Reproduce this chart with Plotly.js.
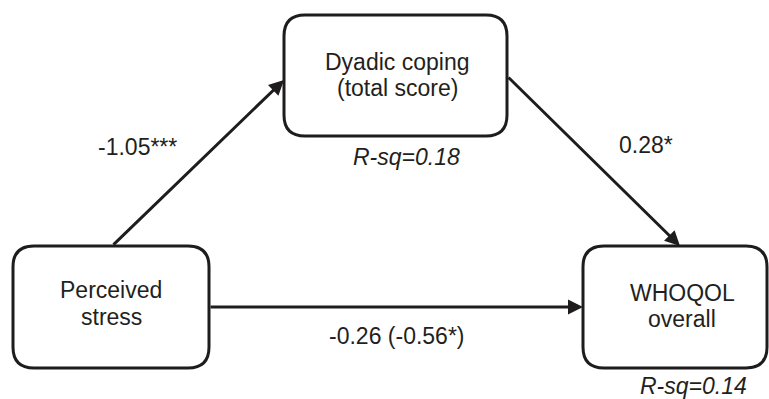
<!DOCTYPE html>
<html>
<head>
<meta charset="utf-8">
<script src="https://cdn.plot.ly/plotly-3.0.1.min.js"></script>
<style>html,body{margin:0;padding:0;background:#fff;}</style>
</head>
<body>
<div id="chart" style="width:769px;height:399px;"></div>
<script>
// ---- Data ----
const nodeNames = ['Perceived stress', 'Dyadic coping (total score)', 'WHOQOL overall'];
const nodeLines = [['Perceived', 'stress'], ['Dyadic coping', '(total score)'], ['WHOQOL', 'overall']];
const pathCoefs = ['-1.05***', '0.28*', '-0.26 (-0.56*)'];
const rsqLabels = ['R-sq=0.18', 'R-sq=0.14'];

// ---- Layout geometry (positions/styles) ----
const boxes = [
  {x0: 13, y0: 246, x1: 209, y1: 368, tx: 111, ty: [290, 317]},
  {x0: 284, y0: 15, x1: 507, y1: 136, tx: 397, ty: [62, 88]},
  {x0: 583, y0: 246, x1: 767, y1: 368, tx: 682, ty: [293, 319]}
];
const arrows = [
  {from: [112, 246], to: [284, 80]},
  {from: [507, 76], to: [680, 246]},
  {from: [209, 307], to: [583, 307]}
];
const coefPos = [[137, 147], [646, 145], [397, 336]];
const rsqPos = [[406, 157], [693, 386]];

const LINE = '#1e1c1d';
const TEXT = '#231f20';
const FONT = 'Liberation Sans, Arial, Helvetica, sans-serif';
const FS = 23;

function rr(x0, y0, x1, y1, r) {
  return `M${x0 + r},${y0} L${x1 - r},${y0} Q${x1},${y0} ${x1},${y0 + r} ` +
         `L${x1},${y1 - r} Q${x1},${y1} ${x1 - r},${y1} L${x0 + r},${y1} ` +
         `Q${x0},${y1} ${x0},${y1 - r} L${x0},${y0 + r} Q${x0},${y0} ${x0 + r},${y0} Z`;
}

const shapes = boxes.map(b => ({
  type: 'path', xref: 'x', yref: 'y', path: rr(b.x0, b.y0, b.x1, b.y1, 21),
  line: {color: LINE, width: 3}, fillcolor: 'rgba(0,0,0,0)'
}));

const annotations = [];
nodeLines.forEach((lines, i) => {
  lines.forEach((t, j) => {
    annotations.push({x: boxes[i].tx, y: boxes[i].ty[j], xref: 'x', yref: 'y', text: t,
      showarrow: false, xanchor: 'center', yanchor: 'middle',
      font: {family: FONT, size: FS, color: TEXT}});
  });
});
arrows.forEach(a => {
  annotations.push({x: a.to[0], y: a.to[1], ax: a.from[0], ay: a.from[1], axref: 'x', ayref: 'y',
    xref: 'x', yref: 'y', text: '', showarrow: true, arrowhead: 2, arrowsize: 1,
    arrowwidth: 3, arrowcolor: LINE, standoff: 0, startstandoff: 0});
});
pathCoefs.forEach((t, i) => {
  annotations.push({x: coefPos[i][0], y: coefPos[i][1], xref: 'x', yref: 'y', text: t,
    showarrow: false, xanchor: 'center', yanchor: 'middle',
    font: {family: FONT, size: FS, color: TEXT}});
});
rsqLabels.forEach((t, i) => {
  annotations.push({x: rsqPos[i][0], y: rsqPos[i][1], xref: 'x', yref: 'y', text: '<i>' + t + '</i>',
    showarrow: false, xanchor: 'center', yanchor: 'middle',
    font: {family: FONT, size: FS, color: TEXT}});
});

Plotly.newPlot('chart', [], {
  width: 769, height: 399,
  margin: {l: 0, r: 0, t: 0, b: 0},
  paper_bgcolor: '#fff', plot_bgcolor: '#fff',
  xaxis: {range: [0, 769], visible: false, fixedrange: true},
  yaxis: {range: [399, 0], visible: false, fixedrange: true},
  shapes: shapes, annotations: annotations, showlegend: false
}, {displayModeBar: false, staticPlot: true});
</script>
</body>
</html>
